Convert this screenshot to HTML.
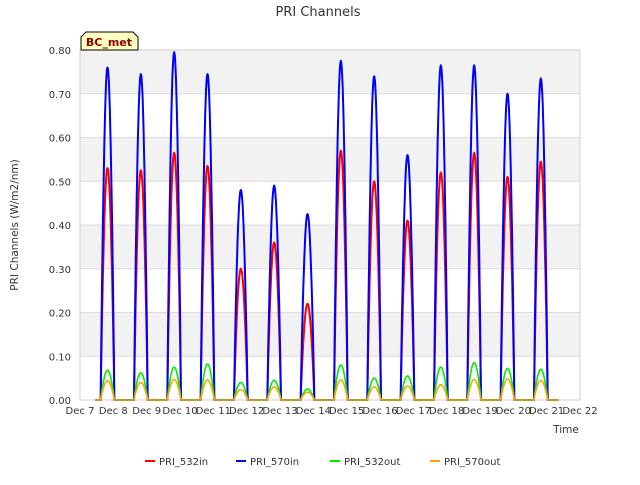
<!DOCTYPE html>
<html><head><meta charset="utf-8"><style>
body{margin:0;background:#fff;font-family:"Liberation Sans","DejaVu Sans",sans-serif;}
svg text{font-family:"DejaVu Sans","Liberation Sans",sans-serif;}
</style></head><body>
<svg id="chart" width="640" height="480" xmlns="http://www.w3.org/2000/svg">
<text x="318" y="16" text-anchor="middle" font-size="13" fill="#333">PRI Channels</text>
<g id="grid"></g>
<g id="series"></g>
<g id="axes"></g>
<text transform="translate(18,225) rotate(-90)" text-anchor="middle" font-size="10.5" fill="#333">PRI Channels (W/m2/nm)</text>
<text x="566" y="433" text-anchor="middle" font-size="10.5" fill="#333">Time</text>
<g>
<path d="M81,50 L81,37 L86,32 L133,32 L138,37 L138,50 Z" fill="#ffffc0" stroke="#000" stroke-width="1"/>
<text x="109" y="46" text-anchor="middle" font-size="11" font-weight="bold" fill="#8b0000">BC_met</text>
</g>
<g id="legend"></g>
</svg>
<script>
const tickLabelsY=["0.00","0.10","0.20","0.30","0.40","0.50","0.60","0.70","0.80"];
const tickValuesY=[0,0.1,0.2,0.3,0.4,0.5,0.6,0.7,0.8];
const tickLabelsX=["Dec 7","Dec 8","Dec 9","Dec 10","Dec 11","Dec 12","Dec 13","Dec 14","Dec 15","Dec 16","Dec 17","Dec 18","Dec 19","Dec 20","Dec 21","Dec 22"];
const days=[7,8,9,10,11,12,13,14,15,16,17,18,19,20];
const pri532in=[0.53,0.525,0.565,0.535,0.30,0.36,0.22,0.57,0.50,0.41,0.52,0.565,0.51,0.545];
const pri570in=[0.76,0.745,0.795,0.745,0.48,0.49,0.425,0.775,0.74,0.56,0.765,0.765,0.70,0.735];
const pri532out=[0.068,0.062,0.075,0.082,0.04,0.045,0.025,0.08,0.05,0.055,0.075,0.085,0.072,0.07];
const pri570out=[0.044,0.04,0.047,0.046,0.024,0.03,0.018,0.046,0.03,0.032,0.035,0.047,0.048,0.045];
const seriesNames=["PRI_532in","PRI_570in","PRI_532out","PRI_570out"];
const seriesColors=["#ff0000","#0000ff","#00ee00","#ffa500"];
const NS="http://www.w3.org/2000/svg";
const X0=80,X1=580,Y0=400,Y1=50;
const xs=d=>X0+(d-7)/(22-7)*(X1-X0);
const ys=v=>Y0-v/0.8*(Y0-Y1);
function mk(tag,attrs,parent){const e=document.createElementNS(NS,tag);for(const k in attrs)e.setAttribute(k,attrs[k]);parent.appendChild(e);return e;}
const grid=document.getElementById('grid');
for(let i=0;i<tickValuesY.length-1;i++){
  if(i%2==1){const b=mk('rect',{x:X0,y:ys(tickValuesY[i+1]),width:X1-X0,height:ys(tickValuesY[i])-ys(tickValuesY[i+1]),fill:'#f2f2f2'},grid);
  
  }
}
tickValuesY.forEach(v=>{const l=mk('line',{x1:X0,x2:X1,y1:ys(v),y2:ys(v),stroke:'#dcdcdc'},grid);

});
const fr=mk('rect',{x:X0,y:Y1,width:X1-X0,height:Y0-Y1,fill:'none',stroke:'#d0d0d0'},grid);


const axes=document.getElementById('axes');
tickValuesY.forEach((v,i)=>{const t=mk('text',{x:71,y:ys(v)+4,'text-anchor':'end','font-size':10,fill:'#333'},axes);t.textContent=tickLabelsY[i];

});
tickLabelsX.forEach((s,i)=>{const t=mk('text',{x:xs(7+i),y:414,'text-anchor':'middle','font-size':10,fill:'#333'},axes);t.textContent=s;

});
const sg=document.getElementById('series');
const all=[pri532in,pri570in,pri532out,pri570out];
[0,1,2,3].forEach(si=>{
  const vals=all[si];let pts=[[xs(7.45),ys(0)]];
  days.forEach((d,i)=>{
    const s=d+0.62,e=d+1.03;
    pts.push([xs(s-0.01),ys(0)]);
    for(let k=0;k<=30;k++){const f=k/30;const v=vals[i]*Math.pow(Math.sin(Math.PI*f),0.9);pts.push([xs(s+f*(e-s)),ys(v)]);}
  });
  pts.push([xs(21.35),ys(0)]);
  const p=mk('polyline',{points:pts.map(p=>p[0].toFixed(1)+','+p[1].toFixed(1)).join(' '),fill:'none',stroke:seriesColors[si],'stroke-width':si<2?2:1.6,'stroke-linejoin':'round'},sg);
  
  
});
const lg=document.getElementById('legend');
const lx=[145,236,330,430];
seriesNames.forEach((n,i)=>{
  const g=mk('g',{},lg);
  
  
  mk('line',{x1:lx[i],x2:lx[i]+10,y1:461,y2:461,stroke:seriesColors[i],'stroke-width':2},g);
  const t=mk('text',{x:lx[i]+14,y:465,'font-size':10,fill:'#333'},g);t.textContent=n;
});
</script>
</body></html>
